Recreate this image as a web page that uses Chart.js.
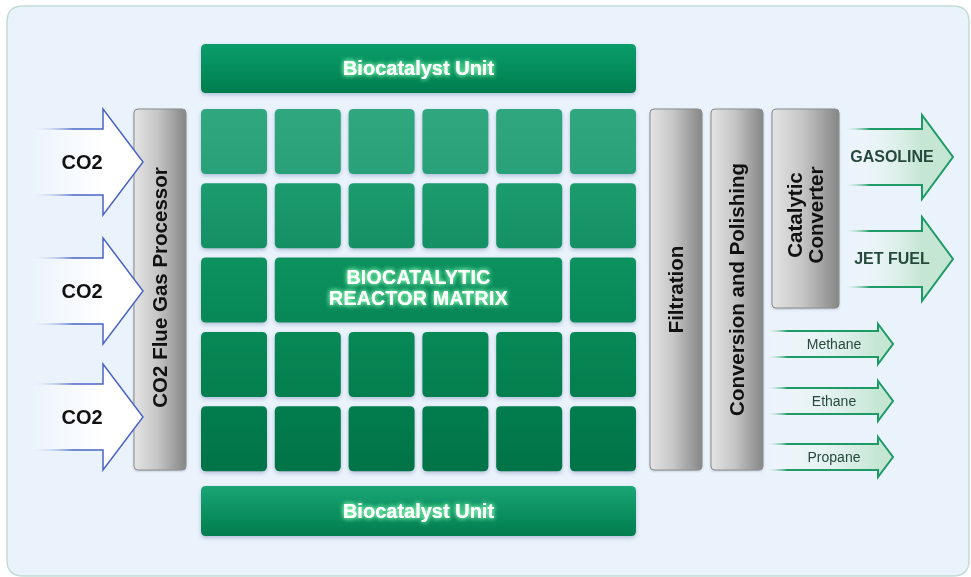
<!DOCTYPE html>
<html>
<head>
<meta charset="utf-8">
<script src="https://cdn.jsdelivr.net/npm/chart.js@4.4.1/dist/chart.umd.min.js"></script>
<style>
  html, body { margin: 0; padding: 0; background: #ffffff; }
  #wrap { width: 971px; height: 577px; }
</style>
</head>
<body>
<div id="wrap"><canvas id="diagram" width="971" height="577"></canvas></div>
<script>
// Diagram content
const inputs = ['CO2', 'CO2', 'CO2'];
const unitLabels = ['Biocatalyst Unit', 'Biocatalyst Unit'];
const matrixLabel = ['BIOCATALYTIC', 'REACTOR MATRIX'];
const gridRows = 5;
const gridCols = 6;
const stages = ['CO2 Flue Gas Processor', 'Filtration', 'Conversion and Polishing', 'Catalytic\nConverter'];
const fuels = ['GASOLINE', 'JET FUEL'];
const gases = ['Methane', 'Ethane', 'Propane'];

// Layout in scale units (the canvas is mapped 1:1 onto the x / y scales)
const W = 971, H = 577;
const geo = {
    panel: [7, 6, 969, 576],
    unitTop: [201, 44, 636, 93],
    unitBottom: [201, 486, 636, 536],
    grid: { x0: 201, y0: 109, dx: 73.8, dy: 74.3, w: 66, h: 65 },
    stageBoxes: [[134, 109, 186, 470], [650, 109, 702, 470], [711, 109, 763, 470], [772, 109, 839, 308]],
    stageTextDy: [-2, 0, 0, 6.5], // vertical nudge of the rotated labels (down = +)
    inArrow: { x0: 28, xh: 103, xt: 143, ys: [162, 291, 417], shaft: 33, head: 53, tx: 82, fade: 0.6 },
    fuelArrow: { x0: 842, xh: 922, xt: 953, ys: [157, 259], shaft: 28, head: 42, tx: 892, fade: 0.35 },
    gasArrow: { x0: 765, xh: 878, xt: 893, ys: [344, 401, 457], shaft: 13, head: 20, tx: 834, fade: 0.2 }
};
const rowColors = [['#31a77f', '#29a077'], ['#1c9c6e', '#149064'], ['#0c925f', '#088757'], ['#078956', '#047e4e'], ['#027d4e', '#017347']];
const FONT = '"Liberation Sans", Arial, sans-serif';

const diagramPlugin = {
    id: 'diagram',
    beforeDraw(chart) {
        const ctx = chart.ctx;
        const sx = chart.scales.x, sy = chart.scales.y;
        const X = v => sx.getPixelForValue(v);
        const Y = v => sy.getPixelForValue(v);

        function roundRect(b, r) {
            const x0 = X(b[0]), y0 = Y(b[1]), x1 = X(b[2]), y1 = Y(b[3]);
            ctx.beginPath();
            ctx.moveTo(x0 + r, y0);
            ctx.lineTo(x1 - r, y0);
            ctx.quadraticCurveTo(x1, y0, x1, y0 + r);
            ctx.lineTo(x1, y1 - r);
            ctx.quadraticCurveTo(x1, y1, x1 - r, y1);
            ctx.lineTo(x0 + r, y1);
            ctx.quadraticCurveTo(x0, y1, x0, y1 - r);
            ctx.lineTo(x0, y0 + r);
            ctx.quadraticCurveTo(x0, y0, x0 + r, y0);
            ctx.closePath();
        }

        function glowText(lines, cx, cy, font, lh) {
            ctx.save();
            ctx.font = font;
            ctx.textAlign = 'center';
            ctx.textBaseline = 'middle';
            ctx.fillStyle = '#ffffff';
            ctx.shadowColor = 'rgba(140,255,180,0.95)';
            ctx.shadowBlur = 5;
            const top = cy - (lines.length - 1) * lh / 2;
            lines.forEach((t, i) => {
                ctx.fillText(t, X(cx), Y(top + i * lh));
                ctx.fillText(t, X(cx), Y(top + i * lh));
            });
            ctx.restore();
        }

        function greenBox(b, c1, c2, r) {
            ctx.save();
            ctx.shadowColor = 'rgba(70,90,150,0.35)';
            ctx.shadowBlur = 4;
            ctx.shadowOffsetY = 2;
            const g = ctx.createLinearGradient(0, Y(b[1]), 0, Y(b[3]));
            g.addColorStop(0, c1);
            g.addColorStop(1, c2);
            roundRect(b, r);
            ctx.fillStyle = g;
            ctx.fill();
            ctx.restore();
        }

        // background panel
        ctx.save();
        roundRect(geo.panel, 16);
        ctx.fillStyle = '#eaf3fc';
        ctx.fill();
        ctx.lineWidth = 1.5;
        ctx.strokeStyle = '#c3ddd6';
        ctx.stroke();
        ctx.restore();

        // biocatalyst units
        [geo.unitTop, geo.unitBottom].forEach((b, i) => {
            greenBox(b, i === 0 ? '#0a9e6b' : '#1aa575', '#007d4e', 5);
            glowText([unitLabels[i]], (b[0] + b[2]) / 2, (b[1] + b[3]) / 2 + 1, 'bold 20px ' + FONT, 0);
        });

        // reactor matrix cells
        const gr = geo.grid;
        for (let r = 0; r < gridRows; r++) {
            for (let c = 0; c < gridCols; c++) {
                const mid = r === 2 && c > 0 && c < gridCols - 1;
                if (mid && c > 1) continue;
                const x0 = gr.x0 + c * gr.dx;
                const y0 = gr.y0 + r * gr.dy;
                const x1 = mid ? gr.x0 + (gridCols - 2) * gr.dx + gr.w : x0 + gr.w;
                greenBox([x0, y0, x1, y0 + gr.h], rowColors[r][0], rowColors[r][1], 5);
                if (mid) {
                    ctx.save();
                    ctx.letterSpacing = '0.3px';
                    glowText(matrixLabel, (x0 + x1) / 2, y0 + gr.h / 2 - 0.5, 'bold 19.5px ' + FONT, 21);
                    ctx.restore();
                }
            }
        }

        // process stages (grey columns)
        geo.stageBoxes.forEach((b, i) => {
            ctx.save();
            ctx.shadowColor = 'rgba(60,70,100,0.35)';
            ctx.shadowBlur = 3;
            ctx.shadowOffsetY = 1;
            const g = ctx.createLinearGradient(X(b[0]), 0, X(b[2]), 0);
            g.addColorStop(0, '#e4e4e4');
            g.addColorStop(0.45, '#c6c6c6');
            g.addColorStop(1, '#868686');
            roundRect(b, 4);
            ctx.fillStyle = g;
            ctx.fill();
            ctx.restore();
            ctx.save();
            roundRect(b, 4);
            ctx.lineWidth = 1;
            ctx.strokeStyle = '#8c8c8c';
            ctx.stroke();
            ctx.translate(X((b[0] + b[2]) / 2), Y((b[1] + b[3]) / 2 + geo.stageTextDy[i]));
            ctx.rotate(-Math.PI / 2);
            const lines = stages[i].split('\n');
            ctx.font = 'bold 20.5px ' + FONT;
            ctx.textAlign = 'center';
            ctx.textBaseline = 'middle';
            ctx.fillStyle = '#111111';
            lines.forEach((t, k) => {
                ctx.fillText(t, 0, (k - (lines.length - 1) / 2) * 21 + 1);
            });
            ctx.restore();
        });

        function arrowPath(a, yc) {
            ctx.beginPath();
            ctx.moveTo(X(a.x0), Y(yc - a.shaft));
            ctx.lineTo(X(a.xh), Y(yc - a.shaft));
            ctx.lineTo(X(a.xh), Y(yc - a.head));
            ctx.lineTo(X(a.xt), Y(yc));
            ctx.lineTo(X(a.xh), Y(yc + a.head));
            ctx.lineTo(X(a.xh), Y(yc + a.shaft));
            ctx.lineTo(X(a.x0), Y(yc + a.shaft));
        }

        function drawArrow(a, yc, fillFar, strokeCol, lw, label, font, textCol) {
            ctx.save();
            // fill fading in from the left
            const g = ctx.createLinearGradient(X(a.x0), 0, X(a.xh), 0);
            g.addColorStop(0, 'rgba(255,255,255,0)');
            g.addColorStop(1, fillFar);
            arrowPath(a, yc);
            ctx.closePath();
            ctx.fillStyle = g;
            ctx.fill();
            // outline, also fading on the left
            const gs = ctx.createLinearGradient(X(a.x0), 0, X(a.x0 + (a.xh - a.x0) * a.fade), 0);
            gs.addColorStop(0, 'rgba(255,255,255,0)');
            gs.addColorStop(1, strokeCol);
            arrowPath(a, yc);
            ctx.lineWidth = lw;
            ctx.lineJoin = 'miter';
            ctx.strokeStyle = gs;
            ctx.stroke();
            ctx.font = font;
            ctx.textAlign = 'center';
            ctx.textBaseline = 'middle';
            ctx.fillStyle = textCol;
            ctx.fillText(label, X(a.tx), Y(yc + 1));
            ctx.restore();
        }

        geo.inArrow.ys.forEach((yc, i) => {
            drawArrow(geo.inArrow, yc, '#ffffff', '#4a64c4', 1.5, inputs[i],
                'bold 20px ' + FONT, '#111111');
        });
        geo.fuelArrow.ys.forEach((yc, i) => {
            drawArrow(geo.fuelArrow, yc, '#c4e6d3', '#1d9a66', 2, fuels[i],
                'bold 16px ' + FONT, '#26493d');
        });
        geo.gasArrow.ys.forEach((yc, i) => {
            drawArrow(geo.gasArrow, yc, '#c4e6d3', '#1d9a66', 2, gases[i],
                '14px ' + FONT, '#26493d');
        });
    }
};

new Chart(document.getElementById('diagram'), {
    type: 'scatter',
    data: { datasets: [{ data: [], pointRadius: 0 }] },
    options: {
        responsive: false,
        animation: false,
        events: [],
        layout: { padding: 0 },
        plugins: { legend: { display: false }, tooltip: { enabled: false } },
        scales: {
            x: { type: 'linear', min: 0, max: W, display: false },
            y: { type: 'linear', min: 0, max: H, reverse: true, display: false }
        }
    },
    plugins: [diagramPlugin]
});
</script>
</body>
</html>
